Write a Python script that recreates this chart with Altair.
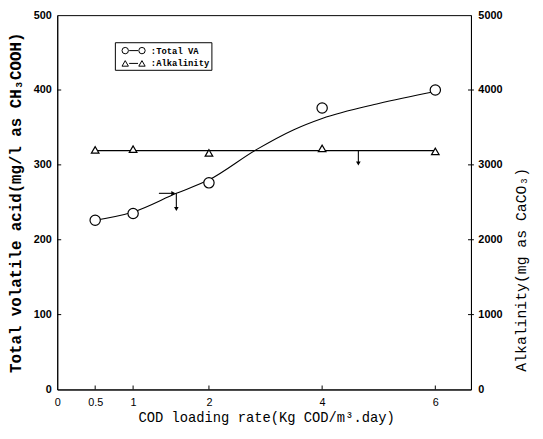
import altair as alt
import pandas as pd

# ---- data ----
loading = [0.5, 1, 2, 4, 6]
tva = [226, 235, 276, 376, 400]              # mg/l as CH3COOH (left axis)
alk = [3200, 3210, 3160, 3220, 3180]         # mg as CaCO3 (right axis)

fit_x = [0.5, 1, 1.57, 2, 2.83, 3.5, 4, 5, 6]
fit_tva = [226, 237, 262, 280, 320, 347, 362, 382, 398]
alk_fit_x = [0.5, 6]
alk_fit = [3190, 3190]

x_ticks = [0, 0.5, 1, 2, 4, 6]
left_ticks = [0, 100, 200, 300, 400, 500]
right_ticks = [0, 1000, 2000, 3000, 4000, 5000]

# arrows (start -> tip)
arr_h = {"x1": [1.34], "x2": [1.53], "y1": [262], "y2": [262]}
arr_v1 = {"x1": [1.57], "x2": [1.57], "y1": [262], "y2": [241]}
arr_v2 = {"x1": [4.64], "x2": [4.64], "y1": [3190], "y2": [3020]}

W, H = 420, 380
MONO = "Liberation Mono"
SANS = "Liberation Sans"

xs = alt.Scale(type="linear", domain=[0, 2, 6.63], range=[0, 154, W], nice=False)
ys_l = alt.Scale(domain=[0, 500], nice=False)
ys_r = alt.Scale(domain=[0, 5000], nice=False)

x_axis = alt.Axis(values=x_ticks, format="~g", title="COD loading rate(Kg COD/m³.day)",
                  grid=False, ticks=False, labelFlush=False, labelFont=SANS,
                  labelFontSize=11, labelColor="black", labelPadding=7,
                  domainColor="black", titleFont=MONO, titleFontSize=14,
                  titleFontWeight="normal", titleColor="black", titleX=212, titleY=29,
                  titleBaseline="middle", titleAlign="center", labelOverlap=False)
l_axis = alt.Axis(values=left_ticks, format="d", title="Total volatile acid(mg/l as CH₃COOH)",
                  grid=False, ticks=False, labelFont=SANS, labelFontSize=11,
                  labelFontWeight="bold", labelColor="black", labelPadding=6,
                  domainColor="black", titleFont=MONO, titleFontSize=16,
                  titleFontWeight="bold", titleColor="black", titleAngle=-90,
                  titleX=-42, titleY=190, titleAlign="center", titleBaseline="middle")
r_axis = alt.Axis(values=right_ticks, format="d", title="Alkalinity(mg as CaCO₃)",
                  orient="right", grid=False, ticks=False, labelFont=SANS,
                  labelFontSize=11, labelFontWeight="bold", labelColor="black",
                  labelPadding=7, domainColor="black", titleFont=MONO, titleFontSize=15,
                  titleFontWeight="normal", titleColor="black", titleAngle=-90,
                  titleX=50, titleY=258, titleAlign="center", titleBaseline="middle")

d_pts = pd.DataFrame({"x": loading, "tva": tva, "alk": alk})
d_fit = pd.DataFrame({"x": fit_x, "tva": fit_tva})
d_alkfit = pd.DataFrame({"x": alk_fit_x, "alk": alk_fit})

X = alt.X("x:Q", scale=xs, axis=x_axis)

fit_line = alt.Chart(d_fit).mark_line(interpolate="monotone", color="black",
                                      strokeWidth=1.1).encode(
    x=X, y=alt.Y("tva:Q", scale=ys_l, axis=l_axis))
circles = alt.Chart(d_pts).mark_point(shape="circle", filled=True, fill="white",
                                      stroke="black", strokeWidth=1.2, size=110,
                                      opacity=1).encode(
    x=X, y=alt.Y("tva:Q", scale=ys_l, axis=l_axis))

def arrow(d, scale, axis, shape):
    df = pd.DataFrame(d)
    line = alt.Chart(df).mark_rule(color="black", strokeWidth=1.1).encode(
        x=alt.X("x1:Q", scale=xs, axis=x_axis), x2="x2:Q",
        y=alt.Y("y1:Q", scale=scale, axis=axis), y2="y2:Q")
    head = alt.Chart(df).mark_point(shape=shape, filled=True, color="black",
                                    size=22, opacity=1).encode(
        x=alt.X("x2:Q", scale=xs, axis=x_axis),
        y=alt.Y("y2:Q", scale=scale, axis=axis))
    return line + head

a1 = arrow(arr_h, ys_l, l_axis, "triangle-right")
a2 = arrow(arr_v1, ys_l, l_axis, "triangle-down")

lt = alt.Chart(pd.DataFrame({"t": left_ticks[1:-1]})).mark_rule(color="black").encode(
    y=alt.Y("t:Q", scale=ys_l, axis=l_axis), x=alt.value(0), x2=alt.value(4))
bt = alt.Chart(pd.DataFrame({"x": x_ticks[1:]})).mark_rule(color="black").encode(
    x=X, y=alt.value(H), y2=alt.value(H - 4))

# legend box
lg_box = alt.Chart(pd.DataFrame({"a": [0]})).mark_rect(fill="white", stroke="black",
                                                       strokeWidth=1).encode(
    x=alt.value(59), x2=alt.value(157), y=alt.value(28), y2=alt.value(56))
def lg_row(yy, shape, label):
    base = alt.Chart(pd.DataFrame({"a": [0]}))
    dash = base.mark_rule(color="black", strokeWidth=1).encode(
        x=alt.value(73), x2=alt.value(82), y=alt.value(yy))
    p1 = base.mark_point(shape=shape, filled=True, fill="white", stroke="black",
                         strokeWidth=1, size=42, opacity=1).encode(
        x=alt.value(69), y=alt.value(yy))
    p2 = base.mark_point(shape=shape, filled=True, fill="white", stroke="black",
                         strokeWidth=1, size=42, opacity=1).encode(
        x=alt.value(86), y=alt.value(yy))
    txt = base.mark_text(align="left", baseline="middle", font=MONO, fontSize=9,
                         fontWeight="bold", color="black").encode(
        x=alt.value(95), y=alt.value(yy), text=alt.value(label))
    return dash + p1 + p2 + txt

legend = lg_box + lg_row(36, "circle", ":Total VA") + lg_row(49, "triangle-up", ":Alkalinity")

left = alt.layer(fit_line, circles, a1, a2, lt, bt, legend)

alk_line = alt.Chart(d_alkfit).mark_line(color="black", strokeWidth=1.1).encode(
    x=X, y=alt.Y("alk:Q", scale=ys_r, axis=r_axis))
tris = alt.Chart(d_pts).mark_point(shape="triangle-up", filled=True, fill="white",
                                   stroke="black", strokeWidth=1.2, size=60,
                                   opacity=1).encode(
    x=X, y=alt.Y("alk:Q", scale=ys_r, axis=r_axis))
a3 = arrow(arr_v2, ys_r, r_axis, "triangle-down")
rt = alt.Chart(pd.DataFrame({"t": right_ticks[1:-1]})).mark_rule(color="black").encode(
    y=alt.Y("t:Q", scale=ys_r, axis=r_axis), x=alt.value(W - 3), x2=alt.value(W + 3))

right = alt.layer(alk_line, tris, a3, rt)

chart = alt.layer(left, right).resolve_scale(y="independent").properties(
    width=W, height=H, autosize=alt.AutoSizeParams(type="none"),
    padding={"left": 50, "top": 4, "right": 65, "bottom": 45},
    background="white",
).configure_view(stroke="black", strokeWidth=1)

chart.save("out.html", embed_options={"renderer": "svg", "actions": False})
